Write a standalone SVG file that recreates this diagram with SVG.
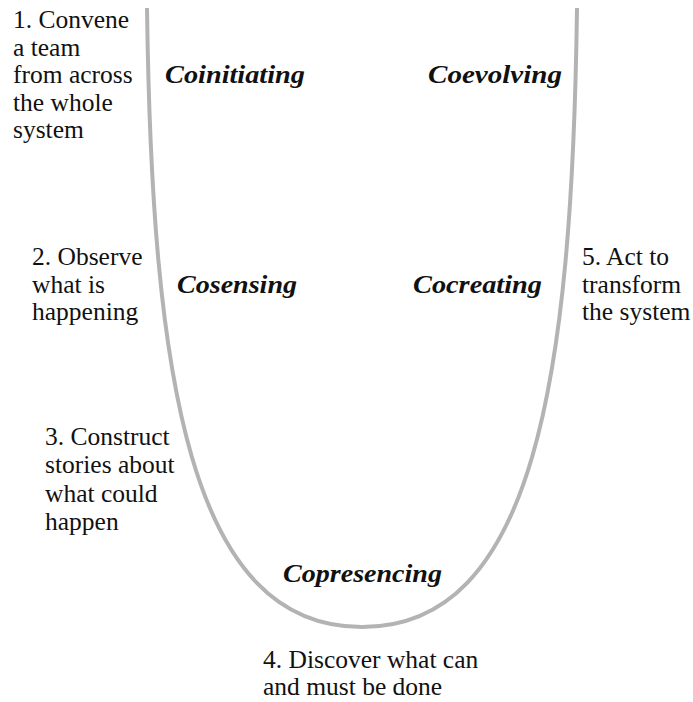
<svg xmlns="http://www.w3.org/2000/svg" width="693" height="702" viewBox="0 0 693 702">
<style>
.t{font-family:"Liberation Serif","Times New Roman",serif;font-size:25.5px;fill:#111}
.s{font-family:"Liberation Serif","Times New Roman",serif;font-size:25px;font-weight:bold;font-style:italic;fill:#111}
.u{fill:none;stroke:#b3b3b3;stroke-width:4}
</style>
<rect width="693" height="702" fill="#fff"/>
<g id="connectors">
<path class="u" d="M147,8 C152,380 190,627 362,627 C534,627 572,380 577,8"/>
</g>
<g id="step1"><text class="t"><tspan x="13" y="28">1. Convene</tspan><tspan x="13" y="55.5">a team</tspan><tspan x="13" y="83">from across</tspan><tspan x="13" y="110.5">the whole</tspan><tspan x="13" y="138">system</tspan></text></g>
<g id="coinitiating"><text class="s" x="165" y="83" textLength="140" lengthAdjust="spacingAndGlyphs">Coinitiating</text></g>
<g id="coevolving"><text class="s" x="428" y="83" textLength="134" lengthAdjust="spacingAndGlyphs">Coevolving</text></g>
<g id="step2"><text class="t"><tspan x="32" y="265">2. Observe</tspan><tspan x="32" y="292.5">what is</tspan><tspan x="32" y="320">happening</tspan></text></g>
<g id="cosensing"><text class="s" x="177" y="293" textLength="120" lengthAdjust="spacingAndGlyphs">Cosensing</text></g>
<g id="cocreating"><text class="s" x="413" y="293" textLength="129" lengthAdjust="spacingAndGlyphs">Cocreating</text></g>
<g id="step5"><text class="t"><tspan x="582" y="265">5. Act to</tspan><tspan x="582" y="292.5">transform</tspan><tspan x="582" y="320">the system</tspan></text></g>
<g id="step3"><text class="t"><tspan x="45" y="445">3. Construct</tspan><tspan x="45" y="473">stories about</tspan><tspan x="45" y="501.5">what could</tspan><tspan x="45" y="530">happen</tspan></text></g>
<g id="copresencing"><text class="s" x="283" y="582" textLength="159" lengthAdjust="spacingAndGlyphs">Copresencing</text></g>
<g id="step4"><text class="t"><tspan x="263" y="668">4. Discover what can</tspan><tspan x="263" y="695">and must be done</tspan></text></g>
</svg>
